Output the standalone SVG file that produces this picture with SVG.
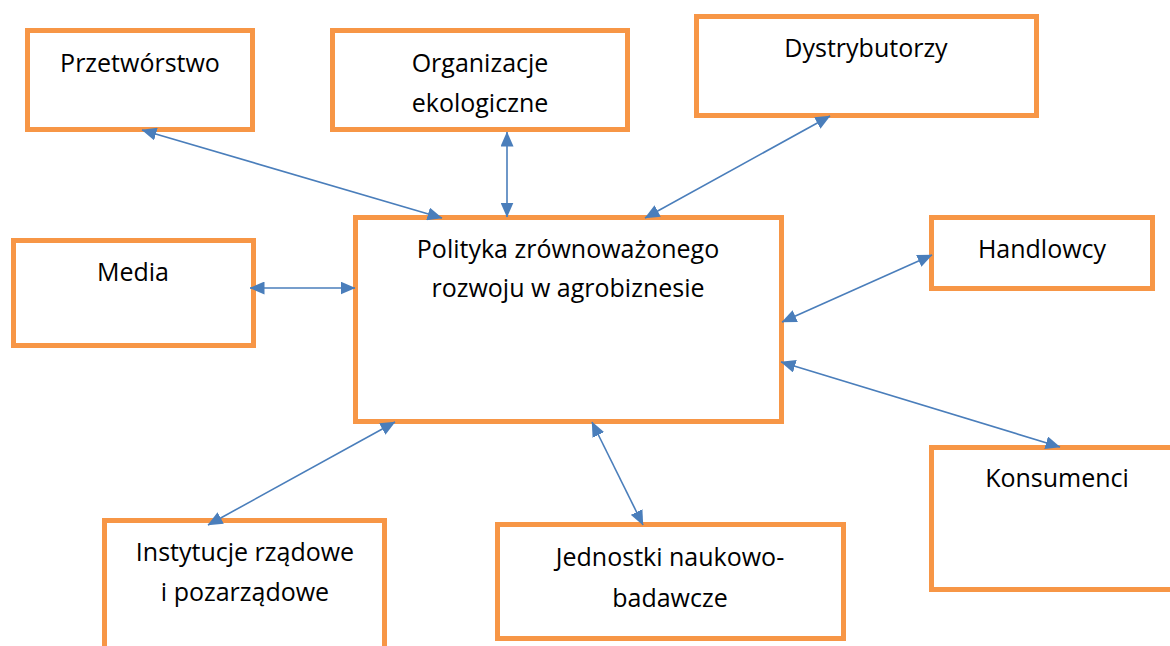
<svg xmlns="http://www.w3.org/2000/svg" width="1170" height="646" viewBox="0 0 1170 646">
<style>
.box{fill:#FFFFFF;stroke:#F79646;stroke-width:5}
.lbl{font-family:"Open Sans","Noto Sans","Liberation Sans",sans-serif;font-size:25px;fill:#000000;text-anchor:middle}
.con{stroke:#4A7EBB;stroke-width:1.6;fill:none;marker-start:url(#ah);marker-end:url(#ah)}
</style>
<defs>
<marker id="ah" markerUnits="userSpaceOnUse" markerWidth="15" markerHeight="13" viewBox="0 0 15 13" refX="14.5" refY="6.5" orient="auto-start-reverse">
<path d="M0,0 L15,6.5 L0,13 Z" fill="#4A7EBB"/>
</marker>
</defs>
<rect width="1170" height="646" fill="#FFFFFF"/>
<g id="node-przetworstwo">
<rect class="box" x="27.5" y="30.5" width="225" height="99"/>
<text class="lbl" x="140" y="72">Przetwórstwo</text>
</g>
<g id="node-organizacje">
<rect class="box" x="332.5" y="30.5" width="295" height="99"/>
<text class="lbl" x="480" y="72">Organizacje</text>
<text class="lbl" x="480" y="112">ekologiczne</text>
</g>
<g id="node-dystrybutorzy">
<rect class="box" x="696.5" y="16.5" width="340" height="99"/>
<text class="lbl" x="866" y="57">Dystrybutorzy</text>
</g>
<g id="node-media">
<rect class="box" x="13.5" y="240.5" width="240" height="105"/>
<text class="lbl" x="133" y="281">Media</text>
</g>
<g id="node-polityka">
<rect class="box" x="355.5" y="217.5" width="426" height="204"/>
<text class="lbl" x="568" y="258">Polityka zrównoważonego</text>
<text class="lbl" x="568" y="297">rozwoju w agrobiznesie</text>
</g>
<g id="node-handlowcy">
<rect class="box" x="931.5" y="217.5" width="221" height="71"/>
<text class="lbl" x="1042" y="258">Handlowcy</text>
</g>
<g id="node-konsumenci">
<rect class="box" x="931.5" y="447.5" width="260" height="142"/>
<text class="lbl" x="1057" y="487">Konsumenci</text>
</g>
<g id="node-instytucje">
<rect class="box" x="104.5" y="520.5" width="280" height="150"/>
<text class="lbl" x="245" y="561">Instytucje rządowe</text>
<text class="lbl" x="245" y="601">i pozarządowe</text>
</g>
<g id="node-jednostki">
<rect class="box" x="497.5" y="524.5" width="346" height="114"/>
<text class="lbl" x="670" y="566">Jednostki naukowo-</text>
<text class="lbl" x="670" y="607">badawcze</text>
</g>
<g id="connectors">
<line class="con" x1="142" y1="130" x2="442" y2="218"/>
<line class="con" x1="507" y1="132" x2="507" y2="217"/>
<line class="con" x1="830" y1="116" x2="645" y2="218"/>
<line class="con" x1="250" y1="288" x2="355" y2="288"/>
<line class="con" x1="932" y1="255" x2="782" y2="322"/>
<line class="con" x1="781" y1="362" x2="1060" y2="447"/>
<line class="con" x1="395" y1="422" x2="208" y2="525"/>
<line class="con" x1="592" y1="422" x2="643" y2="525"/>
</g>
</svg>
